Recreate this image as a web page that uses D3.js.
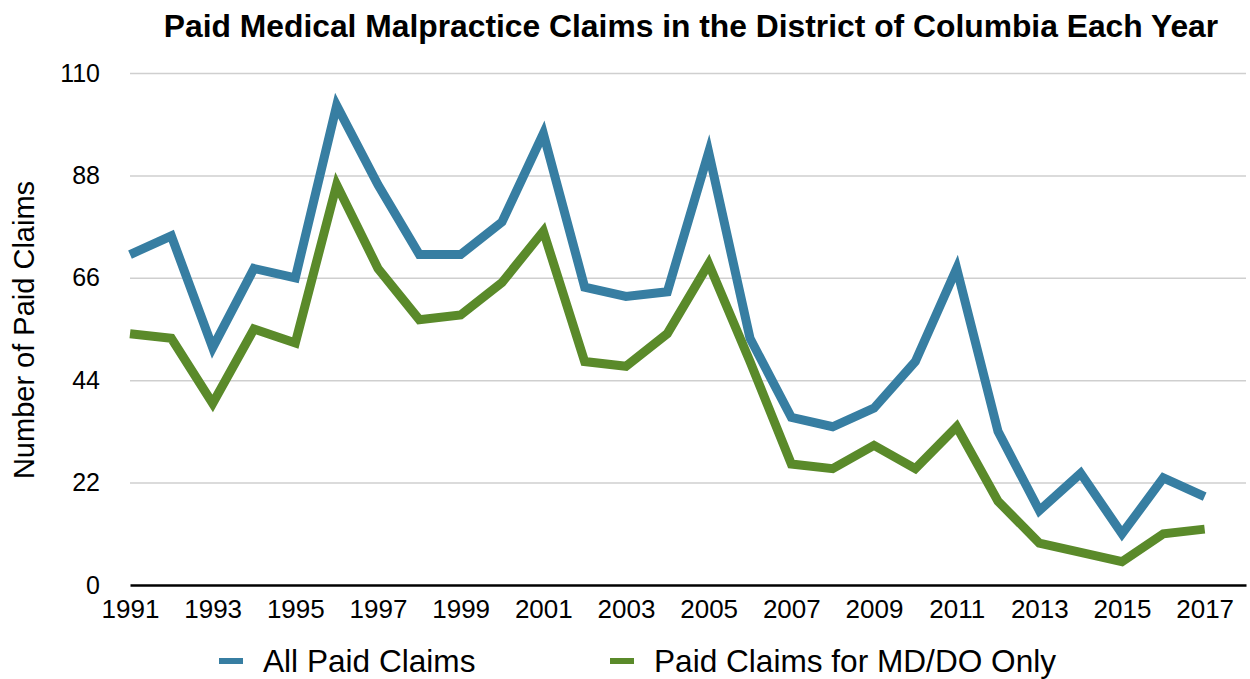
<!DOCTYPE html>
<html>
<head>
<meta charset="utf-8">
<script src="https://cdn.jsdelivr.net/npm/d3@7"></script>
<style>
  body { margin: 0; background: #fff; }
  svg { display: block; font-family: "Liberation Sans", Arial, Helvetica, sans-serif; }
</style>
</head>
<body>
<div class="chart"></div>
<script>
// years on the x axis
const years = d3.range(1991, 2018)
// all paid claims
const allClaims = [71, 75, 51, 68, 66, 103, 86, 71, 71, 78, 97, 64, 62, 63, 93, 53,
  36, 34, 38, 48, 68, 33, 16, 24, 11, 23, 19]
// MD/DO only
const mdClaims = [54, 53, 39, 55, 52, 86, 68, 57, 58, 65, 76, 48, 47, 54, 69, 48,
  26, 25, 30, 25, 34, 18, 9, 7, 5, 11, 12]
const yTicks = [0, 22, 44, 66, 88, 110]
const xTicks = d3.range(1991, 2018, 2)
const seriesNames = ['All Paid Claims', 'Paid Claims for MD/DO Only']
const colors = ['#377ea2', '#5a8a2a']

const width = 1250, height = 679
const margin = { top: 73, right: 4, bottom: 94, left: 130 }
const graphWidth = width - margin.left - margin.right
const graphHeight = height - margin.top - margin.bottom

const svg = d3.select('.chart')
  .append('svg')
  .attr('width', width)
  .attr('height', height)

const graph = svg.append('g')
  .attr('transform', `translate(${margin.left}, ${margin.top})`)

const x = d3.scaleLinear()
  .domain([1991, 2018])
  .range([0, graphWidth])

const y = d3.scaleLinear()
  .domain([0, 110])
  .range([graphHeight, 0])

// gridlines + y labels
const yAxis = d3.axisLeft(y)
  .tickValues(yTicks)
  .tickSize(-graphWidth)
  .tickPadding(30)

const yAxisGroup = graph.append('g').call(yAxis)
yAxisGroup.select('.domain').remove()
yAxisGroup.selectAll('line')
  .attr('stroke', '#cfcfcf')
  .attr('stroke-width', 1.5)
  .filter(d => d === 0).remove()
yAxisGroup.selectAll('text')
  .attr('font-size', 25)
  .attr('fill', '#000')
  .attr('font-family', '"Liberation Sans", Arial, sans-serif')

// x axis
const xAxis = d3.axisBottom(x)
  .tickValues(xTicks)
  .tickSize(0)
  .tickPadding(15)
  .tickFormat(d3.format('d'))

const xAxisGroup = graph.append('g')
  .attr('transform', `translate(0, ${graphHeight})`)
  .call(xAxis)
xAxisGroup.select('.domain')
  .attr('stroke', '#000')
  .attr('stroke-width', 2.5)
xAxisGroup.selectAll('text')
  .attr('font-size', 26)
  .attr('fill', '#000')
  .attr('font-family', '"Liberation Sans", Arial, sans-serif')

// lines
const line = d3.line()
  .x((d, i) => x(years[i]))
  .y(d => y(d))

const series = [allClaims, mdClaims]

graph.selectAll('path.series')
  .data(series)
  .enter()
  .append('path')
  .attr('class', 'series')
  .attr('d', line)
  .attr('fill', 'none')
  .attr('stroke', (d, i) => colors[i])
  .attr('stroke-width', 9)
  .attr('stroke-linejoin', 'miter')

// title
svg.append('text')
  .attr('x', 691)
  .attr('y', 37)
  .attr('text-anchor', 'middle')
  .attr('font-size', 31.8)
  .attr('font-weight', 'bold')
  .text('Paid Medical Malpractice Claims in the District of Columbia Each Year')

// y axis title
svg.append('text')
  .attr('transform', 'translate(34, 330) rotate(-90)')
  .attr('text-anchor', 'middle')
  .attr('font-size', 29)
  .text('Number of Paid Claims')

// legend
const legendX = [219, 610]
const legend = svg.selectAll('g.legend')
  .data(seriesNames)
  .enter()
  .append('g')
  .attr('class', 'legend')
  .attr('transform', (d, i) => `translate(${legendX[i]}, 661)`)

legend.append('line')
  .attr('x1', 0)
  .attr('x2', 24)
  .attr('stroke', (d, i) => colors[i])
  .attr('stroke-width', 6)

legend.append('text')
  .attr('x', 44)
  .attr('y', 11)
  .attr('font-size', 31.6)
  .text(d => d)
</script>
</body>
</html>
